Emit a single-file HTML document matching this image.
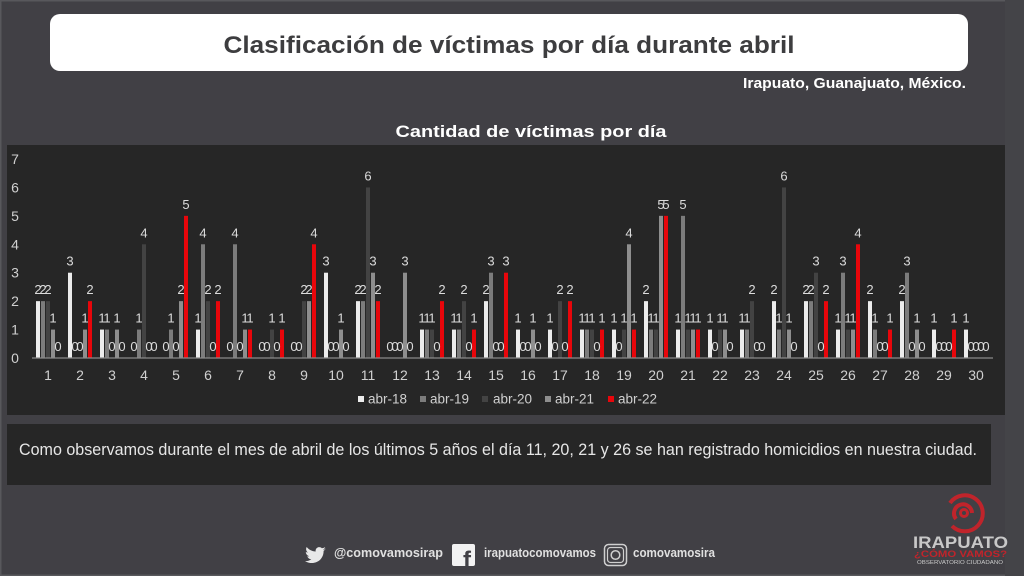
<!DOCTYPE html>
<html><head><meta charset="utf-8">
<style>
html,body{margin:0;padding:0;background:#414045;}
svg{display:block;}
text{font-family:"Liberation Sans",sans-serif;}
.a{fill:#ececec}.b{fill:#7c7c7c}.c{fill:#434343}.d{fill:#8e8e8e}.e{fill:#e8060b}
.v{font-size:13px;fill:#dcdcdc;text-anchor:middle}
.ax{font-size:14px;fill:#d0d0d0;text-anchor:middle}
</style></head>
<body>
<svg width="1024" height="576" viewBox="0 0 1024 576" xmlns="http://www.w3.org/2000/svg">
<rect x="0" y="0" width="1024" height="576" fill="#414045"/>
<rect x="0.5" y="0.5" width="1023" height="575" fill="none" stroke="#58585c" stroke-width="2"/>
<rect x="1005" y="0" width="19" height="576" fill="#444448"/>
<!-- title box -->
<rect x="50" y="14" width="918" height="57" rx="10" fill="#ffffff"/>
<text x="509" y="53" font-size="24" font-weight="bold" fill="#3d3d3f" text-anchor="middle" textLength="571" lengthAdjust="spacingAndGlyphs">Clasificación de víctimas por día durante abril</text>
<text x="966" y="88" font-size="15" font-weight="bold" fill="#ffffff" text-anchor="end" textLength="223" lengthAdjust="spacingAndGlyphs">Irapuato, Guanajuato, México.</text>
<text x="531" y="137" font-size="17" font-weight="bold" fill="#ffffff" text-anchor="middle" textLength="271" lengthAdjust="spacingAndGlyphs">Cantidad de víctimas por día</text>
<!-- chart panel -->
<rect x="7" y="145" width="998" height="270" fill="#262626"/>
<!-- y axis -->
<text class="ax" x="15" y="164">7</text>
<text class="ax" x="15" y="192.4">6</text>
<text class="ax" x="15" y="220.9">5</text>
<text class="ax" x="15" y="249.3">4</text>
<text class="ax" x="15" y="277.7">3</text>
<text class="ax" x="15" y="306.1">2</text>
<text class="ax" x="15" y="334.6">1</text>
<text class="ax" x="15" y="363">0</text>

<g transform="translate(48,0)">
<rect class="a" x="-12" y="301.14" width="4" height="56.86"/><rect class="b" x="-7" y="301.14" width="4" height="56.86"/><rect class="c" x="-2" y="301.14" width="4" height="56.86"/><rect class="d" x="3" y="329.57" width="4" height="28.43"/>
<text class="v" x="-10" y="294.1">2</text><text class="v" x="-5" y="294.1">2</text><text class="v" x="0" y="294.1">2</text><text class="v" x="5" y="322.6">1</text><text class="v" x="10" y="351">0</text>
<text class="ax" x="0" y="380">1</text></g>

<g transform="translate(80,0)">
<rect class="a" x="-12" y="272.71" width="4" height="85.29"/><rect class="d" x="3" y="329.57" width="4" height="28.43"/><rect class="e" x="8" y="301.14" width="4" height="56.86"/>
<text class="v" x="-10" y="265.7">3</text><text class="v" x="-5" y="351">0</text><text class="v" x="0" y="351">0</text><text class="v" x="5" y="322.6">1</text><text class="v" x="10" y="294.1">2</text>
<text class="ax" x="0" y="380">2</text></g>

<g transform="translate(112,0)">
<rect class="a" x="-12" y="329.57" width="4" height="28.43"/><rect class="b" x="-7" y="329.57" width="4" height="28.43"/><rect class="d" x="3" y="329.57" width="4" height="28.43"/>
<text class="v" x="-10" y="322.6">1</text><text class="v" x="-5" y="322.6">1</text><text class="v" x="0" y="351">0</text><text class="v" x="5" y="322.6">1</text><text class="v" x="10" y="351">0</text>
<text class="ax" x="0" y="380">3</text></g>

<g transform="translate(144,0)">
<rect class="b" x="-7" y="329.57" width="4" height="28.43"/><rect class="c" x="-2" y="244.28" width="4" height="113.72"/>
<text class="v" x="-10" y="351">0</text><text class="v" x="-5" y="322.6">1</text><text class="v" x="0" y="237.3">4</text><text class="v" x="5" y="351">0</text><text class="v" x="10" y="351">0</text>
<text class="ax" x="0" y="380">4</text></g>

<g transform="translate(176,0)">
<rect class="b" x="-7" y="329.57" width="4" height="28.43"/><rect class="d" x="3" y="301.14" width="4" height="56.86"/><rect class="e" x="8" y="215.85" width="4" height="142.15"/>
<text class="v" x="-10" y="351">0</text><text class="v" x="-5" y="322.6">1</text><text class="v" x="0" y="351">0</text><text class="v" x="5" y="294.1">2</text><text class="v" x="10" y="208.9">5</text>
<text class="ax" x="0" y="380">5</text></g>

<g transform="translate(208,0)">
<rect class="a" x="-12" y="329.57" width="4" height="28.43"/><rect class="b" x="-7" y="244.28" width="4" height="113.72"/><rect class="c" x="-2" y="301.14" width="4" height="56.86"/><rect class="e" x="8" y="301.14" width="4" height="56.86"/>
<text class="v" x="-10" y="322.6">1</text><text class="v" x="-5" y="237.3">4</text><text class="v" x="0" y="294.1">2</text><text class="v" x="5" y="351">0</text><text class="v" x="10" y="294.1">2</text>
<text class="ax" x="0" y="380">6</text></g>

<g transform="translate(240,0)">
<rect class="b" x="-7" y="244.28" width="4" height="113.72"/><rect class="d" x="3" y="329.57" width="4" height="28.43"/><rect class="e" x="8" y="329.57" width="4" height="28.43"/>
<text class="v" x="-10" y="351">0</text><text class="v" x="-5" y="237.3">4</text><text class="v" x="0" y="351">0</text><text class="v" x="5" y="322.6">1</text><text class="v" x="10" y="322.6">1</text>
<text class="ax" x="0" y="380">7</text></g>

<g transform="translate(272,0)">
<rect class="c" x="-2" y="329.57" width="4" height="28.43"/><rect class="e" x="8" y="329.57" width="4" height="28.43"/>
<text class="v" x="-10" y="351">0</text><text class="v" x="-5" y="351">0</text><text class="v" x="0" y="322.6">1</text><text class="v" x="5" y="351">0</text><text class="v" x="10" y="322.6">1</text>
<text class="ax" x="0" y="380">8</text></g>

<g transform="translate(304,0)">
<rect class="c" x="-2" y="301.14" width="4" height="56.86"/><rect class="d" x="3" y="301.14" width="4" height="56.86"/><rect class="e" x="8" y="244.28" width="4" height="113.72"/>
<text class="v" x="-10" y="351">0</text><text class="v" x="-5" y="351">0</text><text class="v" x="0" y="294.1">2</text><text class="v" x="5" y="294.1">2</text><text class="v" x="10" y="237.3">4</text>
<text class="ax" x="0" y="380">9</text></g>

<g transform="translate(336,0)">
<rect class="a" x="-12" y="272.71" width="4" height="85.29"/><rect class="d" x="3" y="329.57" width="4" height="28.43"/>
<text class="v" x="-10" y="265.7">3</text><text class="v" x="-5" y="351">0</text><text class="v" x="0" y="351">0</text><text class="v" x="5" y="322.6">1</text><text class="v" x="10" y="351">0</text>
<text class="ax" x="0" y="380">10</text></g>

<g transform="translate(368,0)">
<rect class="a" x="-12" y="301.14" width="4" height="56.86"/><rect class="b" x="-7" y="301.14" width="4" height="56.86"/><rect class="c" x="-2" y="187.42" width="4" height="170.58"/><rect class="d" x="3" y="272.71" width="4" height="85.29"/><rect class="e" x="8" y="301.14" width="4" height="56.86"/>
<text class="v" x="-10" y="294.1">2</text><text class="v" x="-5" y="294.1">2</text><text class="v" x="0" y="180.4">6</text><text class="v" x="5" y="265.7">3</text><text class="v" x="10" y="294.1">2</text>
<text class="ax" x="0" y="380">11</text></g>

<g transform="translate(400,0)">
<rect class="d" x="3" y="272.71" width="4" height="85.29"/>
<text class="v" x="-10" y="351">0</text><text class="v" x="-5" y="351">0</text><text class="v" x="0" y="351">0</text><text class="v" x="5" y="265.7">3</text><text class="v" x="10" y="351">0</text>
<text class="ax" x="0" y="380">12</text></g>

<g transform="translate(432,0)">
<rect class="a" x="-12" y="329.57" width="4" height="28.43"/><rect class="b" x="-7" y="329.57" width="4" height="28.43"/><rect class="c" x="-2" y="329.57" width="4" height="28.43"/><rect class="e" x="8" y="301.14" width="4" height="56.86"/>
<text class="v" x="-10" y="322.6">1</text><text class="v" x="-5" y="322.6">1</text><text class="v" x="0" y="322.6">1</text><text class="v" x="5" y="351">0</text><text class="v" x="10" y="294.1">2</text>
<text class="ax" x="0" y="380">13</text></g>

<g transform="translate(464,0)">
<rect class="a" x="-12" y="329.57" width="4" height="28.43"/><rect class="b" x="-7" y="329.57" width="4" height="28.43"/><rect class="c" x="-2" y="301.14" width="4" height="56.86"/><rect class="e" x="8" y="329.57" width="4" height="28.43"/>
<text class="v" x="-10" y="322.6">1</text><text class="v" x="-5" y="322.6">1</text><text class="v" x="0" y="294.1">2</text><text class="v" x="5" y="351">0</text><text class="v" x="10" y="322.6">1</text>
<text class="ax" x="0" y="380">14</text></g>

<g transform="translate(496,0)">
<rect class="a" x="-12" y="301.14" width="4" height="56.86"/><rect class="b" x="-7" y="272.71" width="4" height="85.29"/><rect class="e" x="8" y="272.71" width="4" height="85.29"/>
<text class="v" x="-10" y="294.1">2</text><text class="v" x="-5" y="265.7">3</text><text class="v" x="0" y="351">0</text><text class="v" x="5" y="351">0</text><text class="v" x="10" y="265.7">3</text>
<text class="ax" x="0" y="380">15</text></g>

<g transform="translate(528,0)">
<rect class="a" x="-12" y="329.57" width="4" height="28.43"/><rect class="d" x="3" y="329.57" width="4" height="28.43"/>
<text class="v" x="-10" y="322.6">1</text><text class="v" x="-5" y="351">0</text><text class="v" x="0" y="351">0</text><text class="v" x="5" y="322.6">1</text><text class="v" x="10" y="351">0</text>
<text class="ax" x="0" y="380">16</text></g>

<g transform="translate(560,0)">
<rect class="a" x="-12" y="329.57" width="4" height="28.43"/><rect class="c" x="-2" y="301.14" width="4" height="56.86"/><rect class="e" x="8" y="301.14" width="4" height="56.86"/>
<text class="v" x="-10" y="322.6">1</text><text class="v" x="-5" y="351">0</text><text class="v" x="0" y="294.1">2</text><text class="v" x="5" y="351">0</text><text class="v" x="10" y="294.1">2</text>
<text class="ax" x="0" y="380">17</text></g>

<g transform="translate(592,0)">
<rect class="a" x="-12" y="329.57" width="4" height="28.43"/><rect class="b" x="-7" y="329.57" width="4" height="28.43"/><rect class="c" x="-2" y="329.57" width="4" height="28.43"/><rect class="e" x="8" y="329.57" width="4" height="28.43"/>
<text class="v" x="-10" y="322.6">1</text><text class="v" x="-5" y="322.6">1</text><text class="v" x="0" y="322.6">1</text><text class="v" x="5" y="351">0</text><text class="v" x="10" y="322.6">1</text>
<text class="ax" x="0" y="380">18</text></g>

<g transform="translate(624,0)">
<rect class="a" x="-12" y="329.57" width="4" height="28.43"/><rect class="c" x="-2" y="329.57" width="4" height="28.43"/><rect class="d" x="3" y="244.28" width="4" height="113.72"/><rect class="e" x="8" y="329.57" width="4" height="28.43"/>
<text class="v" x="-10" y="322.6">1</text><text class="v" x="-5" y="351">0</text><text class="v" x="0" y="322.6">1</text><text class="v" x="5" y="237.3">4</text><text class="v" x="10" y="322.6">1</text>
<text class="ax" x="0" y="380">19</text></g>

<g transform="translate(656,0)">
<rect class="a" x="-12" y="301.14" width="4" height="56.86"/><rect class="b" x="-7" y="329.57" width="4" height="28.43"/><rect class="c" x="-2" y="329.57" width="4" height="28.43"/><rect class="d" x="3" y="215.85" width="4" height="142.15"/><rect class="e" x="8" y="215.85" width="4" height="142.15"/>
<text class="v" x="-10" y="294.1">2</text><text class="v" x="-5" y="322.6">1</text><text class="v" x="0" y="322.6">1</text><text class="v" x="5" y="208.9">5</text><text class="v" x="10" y="208.9">5</text>
<text class="ax" x="0" y="380">20</text></g>

<g transform="translate(688,0)">
<rect class="a" x="-12" y="329.57" width="4" height="28.43"/><rect class="b" x="-7" y="215.85" width="4" height="142.15"/><rect class="c" x="-2" y="329.57" width="4" height="28.43"/><rect class="d" x="3" y="329.57" width="4" height="28.43"/><rect class="e" x="8" y="329.57" width="4" height="28.43"/>
<text class="v" x="-10" y="322.6">1</text><text class="v" x="-5" y="208.9">5</text><text class="v" x="0" y="322.6">1</text><text class="v" x="5" y="322.6">1</text><text class="v" x="10" y="322.6">1</text>
<text class="ax" x="0" y="380">21</text></g>

<g transform="translate(720,0)">
<rect class="a" x="-12" y="329.57" width="4" height="28.43"/><rect class="c" x="-2" y="329.57" width="4" height="28.43"/><rect class="d" x="3" y="329.57" width="4" height="28.43"/>
<text class="v" x="-10" y="322.6">1</text><text class="v" x="-5" y="351">0</text><text class="v" x="0" y="322.6">1</text><text class="v" x="5" y="322.6">1</text><text class="v" x="10" y="351">0</text>
<text class="ax" x="0" y="380">22</text></g>

<g transform="translate(752,0)">
<rect class="a" x="-12" y="329.57" width="4" height="28.43"/><rect class="b" x="-7" y="329.57" width="4" height="28.43"/><rect class="c" x="-2" y="301.14" width="4" height="56.86"/>
<text class="v" x="-10" y="322.6">1</text><text class="v" x="-5" y="322.6">1</text><text class="v" x="0" y="294.1">2</text><text class="v" x="5" y="351">0</text><text class="v" x="10" y="351">0</text>
<text class="ax" x="0" y="380">23</text></g>

<g transform="translate(784,0)">
<rect class="a" x="-12" y="301.14" width="4" height="56.86"/><rect class="b" x="-7" y="329.57" width="4" height="28.43"/><rect class="c" x="-2" y="187.42" width="4" height="170.58"/><rect class="d" x="3" y="329.57" width="4" height="28.43"/>
<text class="v" x="-10" y="294.1">2</text><text class="v" x="-5" y="322.6">1</text><text class="v" x="0" y="180.4">6</text><text class="v" x="5" y="322.6">1</text><text class="v" x="10" y="351">0</text>
<text class="ax" x="0" y="380">24</text></g>

<g transform="translate(816,0)">
<rect class="a" x="-12" y="301.14" width="4" height="56.86"/><rect class="b" x="-7" y="301.14" width="4" height="56.86"/><rect class="c" x="-2" y="272.71" width="4" height="85.29"/><rect class="e" x="8" y="301.14" width="4" height="56.86"/>
<text class="v" x="-10" y="294.1">2</text><text class="v" x="-5" y="294.1">2</text><text class="v" x="0" y="265.7">3</text><text class="v" x="5" y="351">0</text><text class="v" x="10" y="294.1">2</text>
<text class="ax" x="0" y="380">25</text></g>

<g transform="translate(848,0)">
<rect class="a" x="-12" y="329.57" width="4" height="28.43"/><rect class="b" x="-7" y="272.71" width="4" height="85.29"/><rect class="c" x="-2" y="329.57" width="4" height="28.43"/><rect class="d" x="3" y="329.57" width="4" height="28.43"/><rect class="e" x="8" y="244.28" width="4" height="113.72"/>
<text class="v" x="-10" y="322.6">1</text><text class="v" x="-5" y="265.7">3</text><text class="v" x="0" y="322.6">1</text><text class="v" x="5" y="322.6">1</text><text class="v" x="10" y="237.3">4</text>
<text class="ax" x="0" y="380">26</text></g>

<g transform="translate(880,0)">
<rect class="a" x="-12" y="301.14" width="4" height="56.86"/><rect class="b" x="-7" y="329.57" width="4" height="28.43"/><rect class="e" x="8" y="329.57" width="4" height="28.43"/>
<text class="v" x="-10" y="294.1">2</text><text class="v" x="-5" y="322.6">1</text><text class="v" x="0" y="351">0</text><text class="v" x="5" y="351">0</text><text class="v" x="10" y="322.6">1</text>
<text class="ax" x="0" y="380">27</text></g>

<g transform="translate(912,0)">
<rect class="a" x="-12" y="301.14" width="4" height="56.86"/><rect class="b" x="-7" y="272.71" width="4" height="85.29"/><rect class="d" x="3" y="329.57" width="4" height="28.43"/>
<text class="v" x="-10" y="294.1">2</text><text class="v" x="-5" y="265.7">3</text><text class="v" x="0" y="351">0</text><text class="v" x="5" y="322.6">1</text><text class="v" x="10" y="351">0</text>
<text class="ax" x="0" y="380">28</text></g>

<g transform="translate(944,0)">
<rect class="a" x="-12" y="329.57" width="4" height="28.43"/><rect class="e" x="8" y="329.57" width="4" height="28.43"/>
<text class="v" x="-10" y="322.6">1</text><text class="v" x="-5" y="351">0</text><text class="v" x="0" y="351">0</text><text class="v" x="5" y="351">0</text><text class="v" x="10" y="322.6">1</text>
<text class="ax" x="0" y="380">29</text></g>

<g transform="translate(976,0)">
<rect class="a" x="-12" y="329.57" width="4" height="28.43"/>
<text class="v" x="-10" y="322.6">1</text><text class="v" x="-5" y="351">0</text><text class="v" x="0" y="351">0</text><text class="v" x="5" y="351">0</text><text class="v" x="10" y="351">0</text>
<text class="ax" x="0" y="380">30</text></g>

<line x1="32" y1="358" x2="993" y2="358" stroke="#8a8a8a" stroke-width="1.2"/>

<!-- legend -->
<rect x="358" y="396" width="6" height="6" class="a"/><text x="368" y="403.5" font-size="13.5" fill="#d0d0d0">abr-18</text>
<rect x="420" y="396" width="6" height="6" class="b"/><text x="430" y="403.5" font-size="13.5" fill="#d0d0d0">abr-19</text>
<rect x="482" y="396" width="6" height="6" class="c"/><text x="493" y="403.5" font-size="13.5" fill="#d0d0d0">abr-20</text>
<rect x="545" y="396" width="6" height="6" class="d"/><text x="555" y="403.5" font-size="13.5" fill="#d0d0d0">abr-21</text>
<rect x="608" y="396" width="6" height="6" class="e"/><text x="618" y="403.5" font-size="13.5" fill="#d0d0d0">abr-22</text>

<!-- text box -->
<rect x="7" y="424" width="984" height="61" fill="#262626"/>
<text x="19" y="455" font-size="16.5" fill="#e6e6e6" textLength="958" lengthAdjust="spacingAndGlyphs">Como observamos durante el mes de abril de los últimos 5 años el día 11, 20, 21 y 26 se han registrado homicidios en nuestra ciudad.</text>

<!-- footer -->
<path d="M326 549 c-1 .5 -2 .7 -3 .8 c1 -.6 1.900 -1.600 2.200 -2.700 c-1 .6 -2.100 1 -3.300 1.200 c-2 -2.100 -5.800 -1.300 -6.300 2.100 c0 .4 0 .8 .1 1.100 c-4 -.2 -7 -2 -9 -4.500 c-1.200 2 -.4 4.400 1.200 5.500 c-.8 0 -1.500 -.2 -2.100 -.6 c0 2.100 1.500 3.800 3.400 4.300 c-.6 .2 -1.300 .2 -1.900 .1 c.5 1.700 2.100 2.900 4 3 c-1.800 1.400 -4.100 2.100 -6.300 1.800 c8.700 5.100 18.700 -.3 18.600 -10.200 c.9 -.6 1.600 -1.400 2.300 -2.400 z" fill="#e8e8e8"/>
<text x="334" y="557" font-size="12.5" font-weight="bold" fill="#e0e0e0" textLength="109" lengthAdjust="spacingAndGlyphs">@comovamosirap</text>
<rect x="452" y="544" width="23" height="22" rx="2" fill="#f2f2f2"/>
<text x="467" y="568" font-size="24" font-weight="bold" fill="#414045" text-anchor="middle">f</text>
<text x="484" y="557" font-size="12.5" font-weight="bold" fill="#e0e0e0" textLength="112" lengthAdjust="spacingAndGlyphs">irapuatocomovamos</text>
<rect x="604.5" y="544.5" width="22" height="21" rx="4" fill="none" stroke="#cfcfcf" stroke-width="1.5"/>
<rect x="607.5" y="547.5" width="16" height="15" rx="3" fill="none" stroke="#cfcfcf" stroke-width="1.2"/>
<circle cx="615.5" cy="555" r="4.3" fill="none" stroke="#cfcfcf" stroke-width="1.5"/>
<text x="633" y="557" font-size="12.5" font-weight="bold" fill="#e0e0e0" textLength="82" lengthAdjust="spacingAndGlyphs">comovamosira</text>

<!-- logo -->
<g fill="none" stroke="#c0242b" stroke-width="4">
<path d="M950 503 A18 18 0 1 1 952 526"/>
<path d="M956 519 A9 9 0 1 1 972 513"/>
<circle cx="964" cy="513" r="3.5" stroke-width="3"/>
</g>
<text x="913" y="548" font-size="17" font-weight="bold" fill="#c8c8c8" textLength="95" lengthAdjust="spacingAndGlyphs">IRAPUATO</text>
<text x="914" y="557" font-size="9" font-weight="bold" fill="#c0242b" textLength="93" lengthAdjust="spacingAndGlyphs">¿CÓMO VAMOS?</text>
<text x="917" y="564" font-size="5.5" fill="#c8c8c8" textLength="86" lengthAdjust="spacingAndGlyphs">OBSERVATORIO CIUDADANO</text>
</svg>
</body></html>
